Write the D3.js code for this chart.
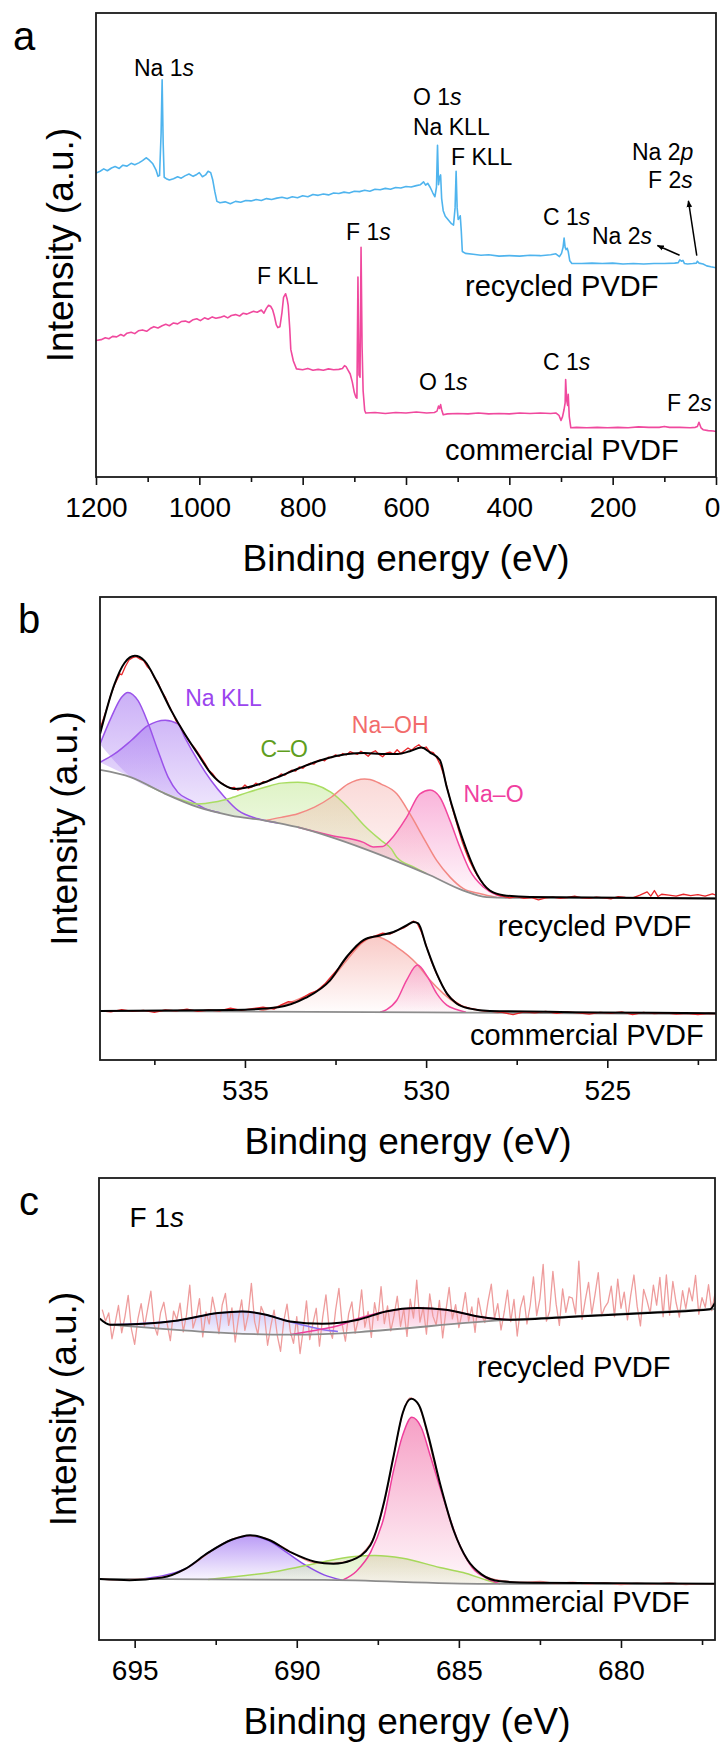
<!DOCTYPE html>
<html>
<head>
<meta charset="utf-8">
<script src="https://cdn.jsdelivr.net/npm/d3@7"></script>
<style>
  body { margin: 0; background: #fff; }
  svg { display: block; }
  text { font-family: "Liberation Sans", Arial, Helvetica, sans-serif; }
</style>
</head>
<body>
<svg id="fig" width="722" height="1745"></svg>
<script>
// ---------- (a) XPS survey spectra: [binding energy (eV), intensity (a.u.)] ----------
const surveyRecycled = [
  [1200,65.5],[1192,65.9],[1185,66.4],[1178,66.0],[1170,66.6],[1163,66.9],[1155,66.5],[1148,67.2],
  [1140,67.0],[1132,67.6],[1125,67.3],[1117,67.7],[1110,68.2],[1103,68.8],[1098,68.4],[1090,67.5],
  [1084,66.2],[1080,64.8],[1077,65.0],[1074,74.0],[1072,85.6],[1070,72.0],[1068,64.6],[1064,64.3],
  [1058,64.0],[1050,64.3],[1042,64.7],[1035,64.4],[1028,64.9],[1020,65.3],[1012,64.8],[1005,65.2],
  [1000,65.6],[994,64.7],[988,65.1],[983,65.9],[978,65.6],[974,64.0],[970,61.5],[966,59.4],
  [960,59.1],[950,59.3],[940,58.9],[930,59.4],[920,59.2],[910,59.6],[900,59.5],[890,59.8],
  [880,59.6],[870,60.0],[860,59.8],[850,60.1],[840,60.3],[830,60.0],[820,60.4],[810,60.2],
  [800,60.6],[790,60.4],[780,60.9],[770,60.7],[760,61.0],[750,60.8],[740,61.2],[730,61.1],
  [720,61.4],[710,61.2],[700,61.6],[690,61.5],[680,61.8],[670,61.6],[660,62.0],[650,61.9],
  [640,62.2],[630,62.0],[620,62.4],[610,62.3],[600,62.6],[590,62.5],[580,62.8],[572,63.0],
  [566,63.6],[562,62.9],[558,63.3],[553,62.4],[548,61.2],[544,60.4],[541,62.5],[539,71.5],
  [537,63.0],[535,64.6],[533,65.1],[531,60.0],[528,57.4],[524,56.2],[518,55.4],[512,54.6],
  [508,54.3],[505,58.0],[503,65.9],[501,58.0],[499,55.5],[497,55.8],[495,56.3],[493,53.0],
  [491,48.6],[485,48.2],[470,48.0],[455,47.8],[440,47.9],[420,47.6],[400,47.7],[380,47.6],
  [360,47.8],[340,47.7],[320,47.9],[310,48.1],[303,47.5],[299,48.2],[296,49.5],[294,51.5],
  [292,49.5],[290,49.0],[288,49.3],[286,48.6],[283,46.6],[279,46.0],[260,46.0],[240,46.1],
  [220,46.0],[200,46.1],[180,45.9],[160,46.0],[140,45.9],[120,46.0],[100,46.0],[80,46.1],
  [73,46.2],[70,46.8],[67,46.5],[64,46.7],[61,46.0],[55,45.9],[45,46.0],[38,46.1],
  [36,46.5],[33,46.1],[25,45.9],[18,45.5],[10,45.3],[0,45.1]
];
const surveyCommercial = [
  [1200,29.4],[1190,29.6],[1182,30.0],[1175,29.8],[1168,30.3],[1160,30.2],[1152,30.7],[1146,30.4],
  [1140,31.0],[1132,31.2],[1125,30.9],[1118,31.5],[1110,31.7],[1102,31.4],[1095,32.0],[1088,32.4],
  [1080,32.1],[1072,32.6],[1065,32.9],[1058,32.6],[1050,33.2],[1042,33.0],[1035,33.5],[1027,33.6],
  [1020,33.3],[1012,33.9],[1005,34.1],[998,33.7],[990,34.3],[983,34.0],[975,34.5],[968,34.2],
  [960,34.4],[952,34.7],[945,34.3],[938,34.8],[930,35.0],[922,34.7],[915,35.3],[908,35.1],
  [902,35.4],[895,35.7],[888,35.5],[880,36.0],[875,35.3],[870,36.4],[866,37.0],[862,36.8],
  [858,36.0],[855,34.8],[851,32.8],[848,32.2],[844,32.4],[840,35.5],[837,38.7],[833,39.5],
  [830,38.3],[828,37.0],[825,32.0],[823,27.5],[818,25.0],[812,23.3],[800,23.1],[790,23.4],
  [780,23.0],[770,23.2],[760,23.0],[750,23.3],[740,23.1],[730,23.2],[723,23.4],[719,24.0],
  [716,23.8],[712,23.0],[708,22.2],[704,20.5],[700,18.2],[697,17.2],[695,17.0],[693,43.1],
  [691,22.0],[689,21.5],[687,49.5],[685,28.0],[683,18.6],[680,14.4],[678,13.8],[660,13.9],
  [640,13.7],[620,13.9],[600,13.8],[580,14.0],[560,13.8],[545,13.9],[540,14.2],[537,15.3],
  [535,14.8],[533,15.6],[531,14.5],[528,13.4],[520,13.6],[500,13.7],[480,13.6],[460,13.8],
  [440,13.6],[420,13.7],[400,13.6],[380,13.8],[360,13.7],[340,13.8],[320,13.7],[310,13.8],
  [304,13.3],[300,12.2],[297,13.0],[294,14.6],[292,16.0],[291,21.0],[289,16.5],[287,15.4],
  [286,17.8],[284,13.0],[281,10.6],[270,10.7],[250,10.6],[230,10.7],[210,10.6],[190,10.7],
  [170,10.6],[150,10.8],[130,10.7],[110,10.7],[100,10.9],[90,10.7],[70,10.7],[50,10.6],
  [40,10.7],[36,10.9],[33,11.8],[31,11.2],[29,10.6],[25,10.2],[15,10.0],[5,9.9],[0,9.8]
];
const surveyTicks = [1200, 1000, 800, 600, 400, 200, 0];
const surveyMinorTicks = [1100, 900, 700, 500, 300, 100];
const surveyPeakNames = ["Na 1s", "O 1s", "Na KLL", "F KLL", "Na 2p", "F 2s", "C 1s", "Na 2s",
                         "F 1s", "F KLL", "O 1s", "C 1s", "F 2s"];
const sampleNames = ["recycled PVDF", "commercial PVDF"];

// ---------- (b) O 1s high-resolution spectra ----------
const o1sRecycledRaw = [
  [539.0,71.5],[538.9,73.8],[538.8,76.2],[538.7,78.9],[538.6,81.0],[538.5,82.6],[538.45,83.4],[538.4,83.2],
  [538.3,85.0],[538.2,86.4],[538.1,86.9],[538.0,87.1],[537.9,86.6],[537.8,86.3],[537.7,85.0],[537.6,84.2],
  [537.5,82.6],[537.4,81.6],[537.3,79.6],[537.2,78.4],[537.1,76.6],[537.0,75.0],[536.9,73.2],[536.8,72.3],
  [536.7,70.8],[536.6,69.6],[536.5,68.4],[536.4,67.5],[536.3,66.4],[536.2,65.2],[536.1,64.0],[536.0,62.6],
  [535.9,61.9],[535.8,60.8],[535.7,60.0],[535.6,59.6],[535.5,59.0],[535.4,58.7],[535.3,58.9],[535.2,58.3],
  [535.1,58.6],[535.0,59.4],[534.9,58.7],[534.8,59.0],[534.7,59.8],[534.6,59.4],[534.5,60.1],[534.4,60.0],
  [534.3,60.6],[534.2,60.9],[534.1,61.1],[534.0,61.8],[533.9,61.5],[533.8,62.2],[533.7,62.6],[533.6,62.4],
  [533.5,63.3],[533.4,63.0],[533.3,63.7],[533.2,64.1],[533.1,63.9],[533.0,64.6],[532.9,64.9],[532.8,64.6],
  [532.7,65.4],[532.6,65.3],[532.5,65.9],[532.4,65.6],[532.3,66.2],[532.2,65.9],[532.1,66.6],[532.0,66.3],
  [531.9,66.0],[531.8,66.7],[531.7,66.2],[531.6,65.6],[531.5,66.4],[531.4,66.8],[531.3,66.0],[531.2,65.5],
  [531.1,66.3],[531.0,66.5],[530.9,66.1],[530.8,67.0],[530.7,66.2],[530.6,66.8],[530.5,67.4],[530.4,66.9],
  [530.3,67.6],[530.2,68.1],[530.1,67.3],[530.0,67.6],[529.9,66.6],[529.8,66.4],[529.7,65.2],[529.6,63.6],
  [529.5,61.2],[529.4,58.2],[529.3,55.0],[529.2,52.3],[529.1,49.6],[529.0,47.0],[528.9,44.9],[528.8,43.0],
  [528.7,41.4],[528.6,40.0],[528.5,38.8],[528.4,37.8],[528.3,36.9],[528.2,36.4],[528.1,36.0],[528.0,35.6],
  [527.9,35.4],[527.7,35.0],[527.5,35.3],[527.3,34.9],[527.1,35.1],[526.9,34.6],[526.7,35.0],[526.5,35.2],
  [526.3,34.9],[526.1,35.1],[525.9,35.4],[525.7,35.0],[525.5,34.9],[525.3,35.2],[525.1,35.0],[524.9,34.8],
  [524.7,35.3],[524.5,35.1],[524.3,35.0],[524.1,35.6],[523.9,36.3],[523.8,35.4],[523.7,36.6],[523.6,35.3],
  [523.5,35.8],[523.3,35.6],[523.1,35.4],[522.9,35.8],[522.7,35.5],[522.5,35.7],[522.3,35.4],[522.1,35.9],
  [522.0,35.6]
];
const o1sRecycledEnvelope = [
  [539.0,70.4],[538.6,81.2],[538.32,85.8],[538.04,87.3],[537.77,86.2],[537.4,81.2],[537.03,75.4],[536.66,70.4],
  [536.3,66.1],[535.93,61.8],[535.56,59.3],[535.28,58.55],[534.92,58.9],[534.45,60.0],[534.0,61.4],[533.54,62.9],
  [533.08,64.3],[532.62,65.4],[532.16,66.1],[531.7,66.3],[531.24,66.1],[530.78,66.1],[530.45,66.7],[530.13,67.5],
  [529.89,66.4],[529.62,64.8],[529.43,58.9],[529.16,51.7],[528.88,45.3],[528.6,40.2],[528.24,36.6],[527.87,35.6],
  [527.13,35.2],[522.0,34.9]
];
const o1sRecycledBackground = [
  [539.0,62.65],[538.14,61.06],[537.2,57.48],[536.3,54.6],[535.38,52.8],[534.45,51.72],[533.54,50.28],
  [532.62,48.13],[531.7,45.6],[530.78,42.8],[529.89,39.9],[528.97,36.6],[528.33,35.2],[527.6,35.0],[522.0,34.9]
];
const o1sNaKll1 = [
  [539.0,68.25],[538.69,74.0],[538.41,78.3],[538.23,79.4],[537.95,77.6],[537.68,72.9],[537.4,66.8],
  [537.12,61.1],[536.85,57.8],[536.48,56.0],[536.1,54.3],[535.69,53.4]
];
const o1sNaKll2 = [
  [539.0,64.3],[538.6,66.1],[538.14,69.0],[537.68,72.2],[537.2,73.4],[536.85,72.6],[536.66,69.7],
  [536.3,64.7],[535.93,60.3],[535.56,56.75],[535.19,53.9],[534.64,52.1],[534.09,51.2]
];
const o1sCO = [
  [537.68,59.3],[536.76,56.2],[536.3,55.3],[535.84,55.7],[535.38,56.6],[534.92,57.8],[534.45,58.9],
  [534.0,59.8],[533.54,60.0],[533.08,59.5],[532.62,57.8],[532.16,54.6],[531.7,50.6],[531.24,47.4],
  [530.96,45.6],[530.81,43.8],[530.35,41.7],[530.0,40.3]
];
const o1sNaOH = [
  [534.45,51.72],[534.0,52.4],[533.54,53.2],[533.08,54.6],[532.62,56.75],[532.16,59.6],[531.7,60.7],
  [531.55,60.6],[531.24,59.6],[530.81,57.5],[530.45,53.2],[530.08,48.1],[529.71,43.1],[529.34,39.5],
  [528.97,37.0],[528.5,35.9],[528.05,35.1]
];
const o1sNaO = [
  [533.54,50.28],[532.62,48.5],[531.73,47.0],[531.46,46.0],[531.2,46.1],[531.0,47.4],[530.54,52.4],
  [530.17,57.5],[529.89,58.3],[529.62,56.75],[529.34,51.7],[529.07,46.0],[528.79,40.9],[528.42,37.35],
  [528.05,35.6],[527.78,35.05]
];
const o1sCommercialRaw = [
  [539.0,10.6],[538.7,10.4],[538.4,10.9],[538.1,10.5],[537.8,10.7],[537.5,10.3],[537.2,10.8],[536.9,10.6],
  [536.6,11.0],[536.3,10.5],[536.0,10.8],[535.7,10.6],[535.4,11.2],[535.1,10.7],[534.8,11.1],[534.5,11.4],
  [534.2,11.0],[534.0,11.9],[533.8,12.6],[533.6,12.4],[533.4,13.5],[533.2,14.4],[533.0,15.0],[532.8,16.4],
  [532.6,18.2],[532.4,20.0],[532.2,22.0],[532.0,23.8],[531.8,25.3],[531.6,26.4],[531.4,26.8],[531.2,27.4],
  [531.0,27.2],[530.8,28.0],[530.6,28.6],[530.45,29.4],[530.35,30.0],[530.25,29.6],[530.15,28.0],[530.05,25.9],
  [529.95,23.6],[529.85,21.2],[529.7,18.4],[529.55,16.0],[529.4,14.0],[529.2,12.6],[529.0,11.6],[528.8,11.2],
  [528.5,10.7],[528.2,10.5],[527.9,10.3],[527.6,9.8],[527.3,10.4],[527.0,10.2],[526.7,10.5],[526.4,10.1],
  [526.1,10.4],[525.8,10.2],[525.5,9.9],[525.2,10.3],[524.9,10.1],[524.6,10.4],[524.3,9.8],[524.0,10.3],
  [523.7,10.0],[523.4,10.2],[523.1,9.9],[522.8,10.1],[522.5,9.8],[522.2,10.1],[522.0,10.0]
];
const o1sCommercialEnvelope = [
  [539.0,10.6],[535.37,10.8],[534.09,11.4],[533.33,13.4],[532.65,17.2],[532.19,22.3],[531.73,25.9],
  [531.27,26.9],[530.9,27.65],[530.53,29.1],[530.35,29.8],[530.22,29.5],[529.99,24.4],[529.71,18.7],
  [529.43,14.4],[529.16,12.2],[528.79,11.1],[528.24,10.6],[522.0,10.1]
];
const o1sCommercialBackground = [[539.0,10.6],[530.0,10.3],[522.0,9.9]];
const o1sCommercialNaOH = [
  [534.61,10.5],[533.59,12.9],[532.65,17.2],[532.19,21.55],[531.73,25.5],[531.37,26.6],[530.81,24.4],
  [530.26,20.8],[529.89,17.2],[529.53,14.4],[529.16,12.2],[528.79,11.1],[528.42,10.6],[528.0,10.2]
];
const o1sCommercialNaO = [
  [531.27,10.3],[531.09,10.9],[530.81,12.9],[530.54,17.2],[530.24,20.5],[529.96,17.95],[529.71,14.4],
  [529.43,11.85],[529.16,10.9],[528.9,10.3]
];
const o1sTicks = [535, 530, 525];
const o1sMinorTicks = [537.5, 532.5, 527.5, 522.5];
const o1sComponentNames = ["Na KLL", "C–O", "Na–OH", "Na–O"];

// ---------- (c) F 1s high-resolution spectra ----------
const f1sRawStart = 696.0;   // eV, first acquisition point
const f1sRawStep = 0.1;      // eV per step
const f1sRecycledRaw = [
  71.5,69.0,70.8,65.2,68.7,72.4,66.5,70.0,74.6,67.3,
  64.0,69.5,72.8,67.8,71.6,75.5,68.2,66.0,70.9,73.1,
  68.6,64.8,71.2,69.3,72.9,66.7,70.4,76.8,67.5,69.8,
  73.9,65.6,71.0,68.4,74.2,70.7,66.3,72.5,75.0,68.1,
  71.9,64.5,69.6,73.6,67.0,70.3,77.2,68.9,66.1,72.2,
  70.5,63.8,68.0,71.4,65.9,62.5,69.1,72.7,66.8,64.2,
  70.0,62.0,67.2,73.4,65.0,68.6,71.8,63.6,69.9,74.7,
  67.4,65.3,71.5,76.1,68.3,64.7,70.6,73.2,66.4,69.4,
  75.8,67.7,71.1,65.5,73.0,69.2,76.5,68.5,72.3,66.9,
  70.2,74.4,67.9,71.7,65.7,73.8,69.7,77.9,68.8,72.0,
  66.2,74.9,70.1,68.2,73.5,65.4,71.3,76.3,69.5,72.6,
  67.6,70.8,75.2,69.0,72.1,66.6,74.0,70.4,68.7,73.3,
  77.0,69.6,72.8,67.1,71.0,75.7,68.9,73.7,65.8,71.9,
  74.5,68.4,72.4,78.6,70.2,73.9,81.3,69.0,71.2,79.8,
  72.7,68.1,76.0,70.9,74.3,74.0,70.6,82.0,69.4,73.6,
  77.4,70.6,74.8,79.5,70.2,72.0,73.1,76.6,70.0,78.1,
  71.8,75.3,69.3,74.6,79.0,72.2,68.0,75.9,73.5,70.7,
  76.8,72.5,78.5,70.0,79.0,70.3,77.6,73.0,69.9,75.6,
  71.7,76.2,73.4,78.9,70.5,74.1,72.0,76.9,71.3,75.0
];
const f1sRecycledEnvelope = [
  [696.08,69.6],[695.76,68.25],[693.66,69.18],[692.43,70.78],[691.69,71.12],[690.95,70.41],[690.21,68.96],
  [689.22,68.47],[688.11,69.33],[687.25,71.12],[686.26,71.86],[685.4,71.49],[684.41,70.04],[683.42,69.33],
  [681.33,70.04],[678.86,70.91],[677.25,71.6],[677.1,73.0]
];
const f1sRecycledBackground = [[695.76,68.25],[690.21,66.09],[683.42,69.33],[677.1,71.64]];
const f1sRecycledComp1 = [
  [695.76,68.25],[693.66,69.18],[692.43,70.78],[691.69,71.12],[690.95,70.41],[690.21,68.9],
  [689.72,68.0],[689.22,67.2],[688.73,66.8]
];
const f1sRecycledComp2 = [
  [690.21,66.09],[689.22,67.3],[688.73,68.0],[688.23,69.3],[687.25,71.12],[686.26,71.86],[685.4,71.49],
  [684.41,70.04],[683.42,69.33]
];
const f1sCommercialRaw = [
  [696.0,13.2],[695.5,13.0],[695.0,13.1],[694.5,13.3],[694.0,13.8],[693.5,15.1],[693.0,17.4],[692.5,19.9],
  [692.0,21.8],[691.5,22.6],[691.0,22.1],[690.5,20.4],[690.0,18.3],[689.5,16.8],[689.0,16.6],[688.5,16.9],
  [688.0,18.6],[687.6,22.6],[687.3,29.8],[687.0,40.2],[686.75,48.6],[686.5,52.4],[686.25,51.0],[686.0,45.3],
  [685.75,38.0],[685.5,31.6],[685.25,25.4],[685.0,20.9],[684.7,16.9],[684.4,14.6],[684.0,13.3],[683.6,12.8],
  [683.0,12.5],[682.5,12.7],[682.0,12.2],[681.5,12.5],[681.0,12.1],[680.5,12.4],[680.0,12.0],[679.5,12.3],
  [679.0,12.1],[678.5,12.4],[678.0,12.0],[677.5,12.2],[677.1,12.1]
];
const f1sCommercialEnvelope = [
  [696.08,13.2],[695.16,12.96],[694.16,13.5],[693.44,15.4],[692.73,18.9],[692.01,21.7],[691.44,22.7],
  [690.87,21.7],[690.16,18.9],[689.44,16.95],[688.87,16.5],[688.3,17.3],[687.73,20.5],[687.3,30.1],
  [687.02,39.6],[686.73,49.2],[686.47,52.2],[686.23,50.8],[685.95,44.4],[685.59,34.1],[685.16,23.7],
  [684.73,17.3],[684.3,14.2],[683.73,12.7],[682.73,12.4],[677.1,12.2]
];
const f1sCommercialBackground = [[696.1,13.2],[689.16,13.0],[684.16,12.16],[677.1,12.16]];
const f1sCommercialComp1 = [
  [694.87,13.15],[693.44,15.4],[692.73,18.9],[692.01,21.7],[691.44,22.5],[690.87,21.5],[690.3,18.9],
  [689.73,16.2],[689.16,14.1],[688.59,12.95]
];
const f1sCommercialComp2 = [
  [688.59,12.95],[688.16,14.9],[687.73,18.9],[687.3,26.9],[687.02,36.5],[686.73,44.4],[686.45,48.2],
  [686.16,46.0],[685.87,39.6],[685.45,30.1],[685.02,21.3],[684.59,15.7],[684.16,13.4],[683.73,12.16]
];
const f1sCommercialComp3 = [
  [692.73,13.1],[690.58,14.9],[689.16,16.95],[688.3,18.0],[687.59,18.3],[686.73,17.7],[685.59,15.7],
  [684.87,14.6],[684.16,13.0],[683.73,12.16]
];
const f1sTicks = [695, 690, 685, 680];
const f1sMinorTicks = [692.5, 687.5, 682.5, 677.5];

// ---------- drawing ----------
const svg = d3.select("#fig");
const defs = svg.append("defs");
const FONT_TICK = 28, FONT_TITLE = 37, FONT_SAMPLE = 29, FONT_PEAK = 23;

defs.append("marker")
  .attr("id", "arrowhead").attr("viewBox", "0 0 10 10")
  .attr("refX", 9).attr("refY", 5).attr("markerWidth", 7).attr("markerHeight", 7)
  .attr("orient", "auto").attr("markerUnits", "userSpaceOnUse")
  .append("path").attr("d", "M0,1 L10,5 L0,9 Z").attr("fill", "#000");

let gradCount = 0;
function gradient(color, topOpacity, bottomOpacity) {
  const id = "grad" + (gradCount++);
  const g = defs.append("linearGradient").attr("id", id)
    .attr("x1", 0).attr("y1", 0).attr("x2", 0).attr("y2", 1);
  g.append("stop").attr("offset", "0%").attr("stop-color", color).attr("stop-opacity", topOpacity);
  g.append("stop").attr("offset", "100%").attr("stop-color", color).attr("stop-opacity", bottomOpacity);
  return `url(#${id})`;
}

let clipCount = 0;
function makePanel(frame, domain, major, minor, letter) {
  const x = d3.scaleLinear().domain(domain).range([frame.left, frame.right]);
  const y = d3.scaleLinear().domain([0, 100]).range([frame.bottom, frame.top]);
  const cid = "clip" + (clipCount++);
  defs.append("clipPath").attr("id", cid).append("rect")
    .attr("x", frame.left).attr("y", frame.top)
    .attr("width", frame.right - frame.left).attr("height", frame.bottom - frame.top);
  const g = svg.append("g");
  const plot = g.append("g").attr("clip-path", `url(#${cid})`);

  const major_ = d3.axisBottom(x).tickValues(major).tickSize(8).tickPadding(12).tickFormat(d3.format("d"));
  const minor_ = d3.axisBottom(x).tickValues(minor).tickSize(5).tickFormat("");
  [major_, minor_].forEach(ax => {
    const a = g.append("g").attr("transform", `translate(0,${frame.bottom})`).call(ax);
    a.select(".domain").remove();
    a.selectAll(".tick line").attr("stroke", "#111").attr("stroke-width", 1.6);
    a.selectAll(".tick text").attr("font-size", FONT_TICK).attr("fill", "#000")
      .attr("font-family", '"Liberation Sans", Arial, sans-serif')
      // keep a label sitting on the right frame edge inside the page
      .attr("dx", d => (x(d) + 9 > 722 ? -(x(d) + 9 - 721) : 0));
  });

  g.append("rect").attr("x", frame.left).attr("y", frame.top)
    .attr("width", frame.right - frame.left).attr("height", frame.bottom - frame.top)
    .attr("fill", "none").attr("stroke", "#1a1a1a").attr("stroke-width", 1.8);

  g.append("text").attr("x", (frame.left + frame.right) / 2).attr("y", frame.bottom + 94)
    .attr("text-anchor", "middle").attr("font-size", FONT_TITLE).text("Binding energy (eV)");
  g.append("text")
    .attr("transform", `translate(${frame.left - 23},${(frame.top + frame.bottom) / 2}) rotate(-90)`)
    .attr("text-anchor", "middle").attr("font-size", FONT_TITLE).text("Intensity (a.u.)");
  g.append("text").attr("x", frame.letterX).attr("y", frame.letterY)
    .attr("font-size", 40).text(letter);
  return { x, y, g, plot };
}

function linePath(p, pts, curve) {
  return d3.line().x(d => p.x(d[0])).y(d => p.y(d[1])).curve(curve || d3.curveMonotoneX)(pts);
}
function drawLine(p, pts, color, width, curve) {
  p.plot.append("path").attr("d", linePath(p, pts, curve)).attr("fill", "none")
    .attr("stroke", color).attr("stroke-width", width).attr("stroke-linejoin", "round");
}
// Area between a fitted component and the background under it
function drawFill(p, comp, base, fill) {
  const hi = comp[0][0], lo = comp[comp.length - 1][0];
  const inside = base.filter(d => d[0] < hi && d[0] > lo);
  const back = [comp[comp.length - 1]].concat(inside.slice().reverse(), [comp[0]]);
  const d = linePath(p, comp) + linePath(p, back).replace(/^M/, "L") + "Z";
  p.plot.append("path").attr("d", d).attr("fill", fill).attr("stroke", "none");
}
function label(p, str, e, i, size, color, anchor) {
  const t = p.g.append("text").attr("x", p.x(e)).attr("y", p.y(i))
    .attr("font-size", size).attr("fill", color || "#000").attr("text-anchor", anchor || "start");
  const m = str.match(/^(.*\d)([spdf])$/);
  if (m) {
    t.append("tspan").text(m[1]);
    t.append("tspan").attr("font-style", "italic").text(m[2]);
  } else {
    t.text(str);
  }
}
function arrow(p, from, to) {
  p.g.append("line")
    .attr("x1", p.x(from[0])).attr("y1", p.y(from[1]))
    .attr("x2", p.x(to[0])).attr("y2", p.y(to[1]))
    .attr("stroke", "#000").attr("stroke-width", 1.5).attr("marker-end", "url(#arrowhead)");
}

// ----- panel a: survey -----
const pa = makePanel({ left: 96, right: 716, top: 13, bottom: 477, letterX: 13, letterY: 50 },
  [1200, 0], surveyTicks, surveyMinorTicks, "a");
drawLine(pa, surveyRecycled, "#4fb4ee", 1.6, d3.curveLinear);
drawLine(pa, surveyCommercial, "#f0499e", 1.6, d3.curveLinear);
// label anchors: [energy, intensity]
const surveyLabelAnchors = [
  [1126.5, 86.4], [586.5, 80.2], [586.5, 73.8], [512.9, 67.2], [162.6, 68.3], [131.6, 62.2],
  [334.8, 54.3], [240, 50.2], [716.1, 51.1], [888.4, 41.6], [574.8, 18.75], [334.8, 23.1], [94.8, 14.2]
];
surveyPeakNames.forEach((n, k) => label(pa, n, surveyLabelAnchors[k][0], surveyLabelAnchors[k][1], FONT_PEAK));
label(pa, sampleNames[0], 485.8, 39.1, FONT_SAMPLE);
label(pa, sampleNames[1], 524.5, 3.7, FONT_SAMPLE);
arrow(pa, [70.5, 47.8], [113.4, 49.9]);
arrow(pa, [37.2, 47.7], [53.4, 59.5]);

// ----- panel b: O 1s -----
const pb = makePanel({ left: 100, right: 716, top: 597, bottom: 1060, letterX: 18, letterY: 633 },
  [539, 522], o1sTicks, o1sMinorTicks, "b");
const colKll = "#9a52ea", colCO = "#a9dd62", colNaOH = "#f38883", colNaO = "#f2479f";
drawFill(pb, o1sNaKll1, o1sRecycledBackground, gradient("#a06ef0", 0.55, 0.12));
drawFill(pb, o1sNaKll2, o1sRecycledBackground, gradient("#a06ef0", 0.5, 0.12));
drawFill(pb, o1sCO, o1sRecycledBackground, gradient("#b8e482", 0.45, 0.1));
drawFill(pb, o1sNaOH, o1sRecycledBackground, gradient("#f4a6a2", 0.42, 0.02));
drawFill(pb, o1sNaO, o1sRecycledBackground, gradient("#f46ab6", 0.5, 0.04));
drawFill(pb, o1sCommercialNaOH, o1sCommercialBackground, gradient("#f4a09a", 0.55, 0.02));
drawFill(pb, o1sCommercialNaO, o1sCommercialBackground, gradient("#f46ab6", 0.35, 0.04));
drawLine(pb, o1sNaKll1, colKll, 1.5);
drawLine(pb, o1sNaKll2, colKll, 1.5);
drawLine(pb, o1sCO, colCO, 1.5);
drawLine(pb, o1sNaOH, colNaOH, 1.5);
drawLine(pb, o1sNaO, colNaO, 1.5);
drawLine(pb, o1sCommercialNaOH, colNaOH, 1.5);
drawLine(pb, o1sCommercialNaO, colNaO, 1.5);
drawLine(pb, o1sRecycledBackground, "#8c8c8c", 1.8);
drawLine(pb, o1sCommercialBackground, "#8c8c8c", 1.8);
drawLine(pb, o1sRecycledRaw, "#e8262a", 1.3, d3.curveLinear);
drawLine(pb, o1sCommercialRaw, "#e8262a", 1.3, d3.curveLinear);
drawLine(pb, o1sRecycledEnvelope, "#000", 2);
drawLine(pb, o1sCommercialEnvelope, "#000", 2);
label(pb, o1sComponentNames[0], 536.65, 76.5, FONT_PEAK, "#9b45ee");
label(pb, o1sComponentNames[1], 534.57, 65.4, FONT_PEAK, "#5f9e1e");
label(pb, o1sComponentNames[2], 532.05, 70.7, FONT_PEAK, "#f26b6b");
label(pb, o1sComponentNames[3], 528.97, 55.7, FONT_PEAK, "#f0409f");
label(pb, sampleNames[0], 528.02, 26.7, FONT_SAMPLE);
label(pb, sampleNames[1], 528.79, 3.2, FONT_SAMPLE);

// ----- panel c: F 1s -----
const pc = makePanel({ left: 99, right: 715, top: 1178, bottom: 1640, letterX: 19, letterY: 1215 },
  [696.1, 677.1], f1sTicks, f1sMinorTicks, "c");
const f1sRecycledPoints = f1sRecycledRaw.map((v, k) => [f1sRawStart - k * f1sRawStep, v]);
drawFill(pc, f1sRecycledComp1, f1sRecycledBackground, gradient("#9a8cf0", 0.45, 0.1));
drawFill(pc, f1sRecycledComp2, f1sRecycledBackground, gradient("#f27ab0", 0.45, 0.1));
drawFill(pc, f1sCommercialComp1, f1sCommercialBackground, gradient("#8f5cf0", 0.6, 0.05));
drawFill(pc, f1sCommercialComp3, f1sCommercialBackground, gradient("#b2dc78", 0.4, 0.12));
drawFill(pc, f1sCommercialComp2, f1sCommercialBackground, gradient("#f0609f", 0.6, 0.05));
drawLine(pc, f1sRecycledPoints, "#ee9c9c", 1.3, d3.curveLinear);
drawLine(pc, f1sRecycledComp1, "#8a6ef0", 1.5);
drawLine(pc, f1sRecycledComp2, "#ee3e9b", 1.5);
drawLine(pc, f1sCommercialComp1, "#8a4de8", 1.5);
drawLine(pc, f1sCommercialComp3, "#a6d85a", 1.5);
drawLine(pc, f1sCommercialComp2, "#ee3e9b", 1.5);
drawLine(pc, f1sRecycledBackground, "#8c8c8c", 1.8);
drawLine(pc, f1sCommercialBackground, "#8c8c8c", 1.8);
drawLine(pc, f1sCommercialRaw, "#f09090", 1.3);
drawLine(pc, f1sRecycledEnvelope, "#000", 2);
drawLine(pc, f1sCommercialEnvelope, "#000", 2);
label(pc, "F 1s", 695.16, 89.4, 28);
label(pc, sampleNames[0], 684.44, 56.9, FONT_SAMPLE);
label(pc, sampleNames[1], 685.09, 6.1, FONT_SAMPLE);
</script>
</body>
</html>
